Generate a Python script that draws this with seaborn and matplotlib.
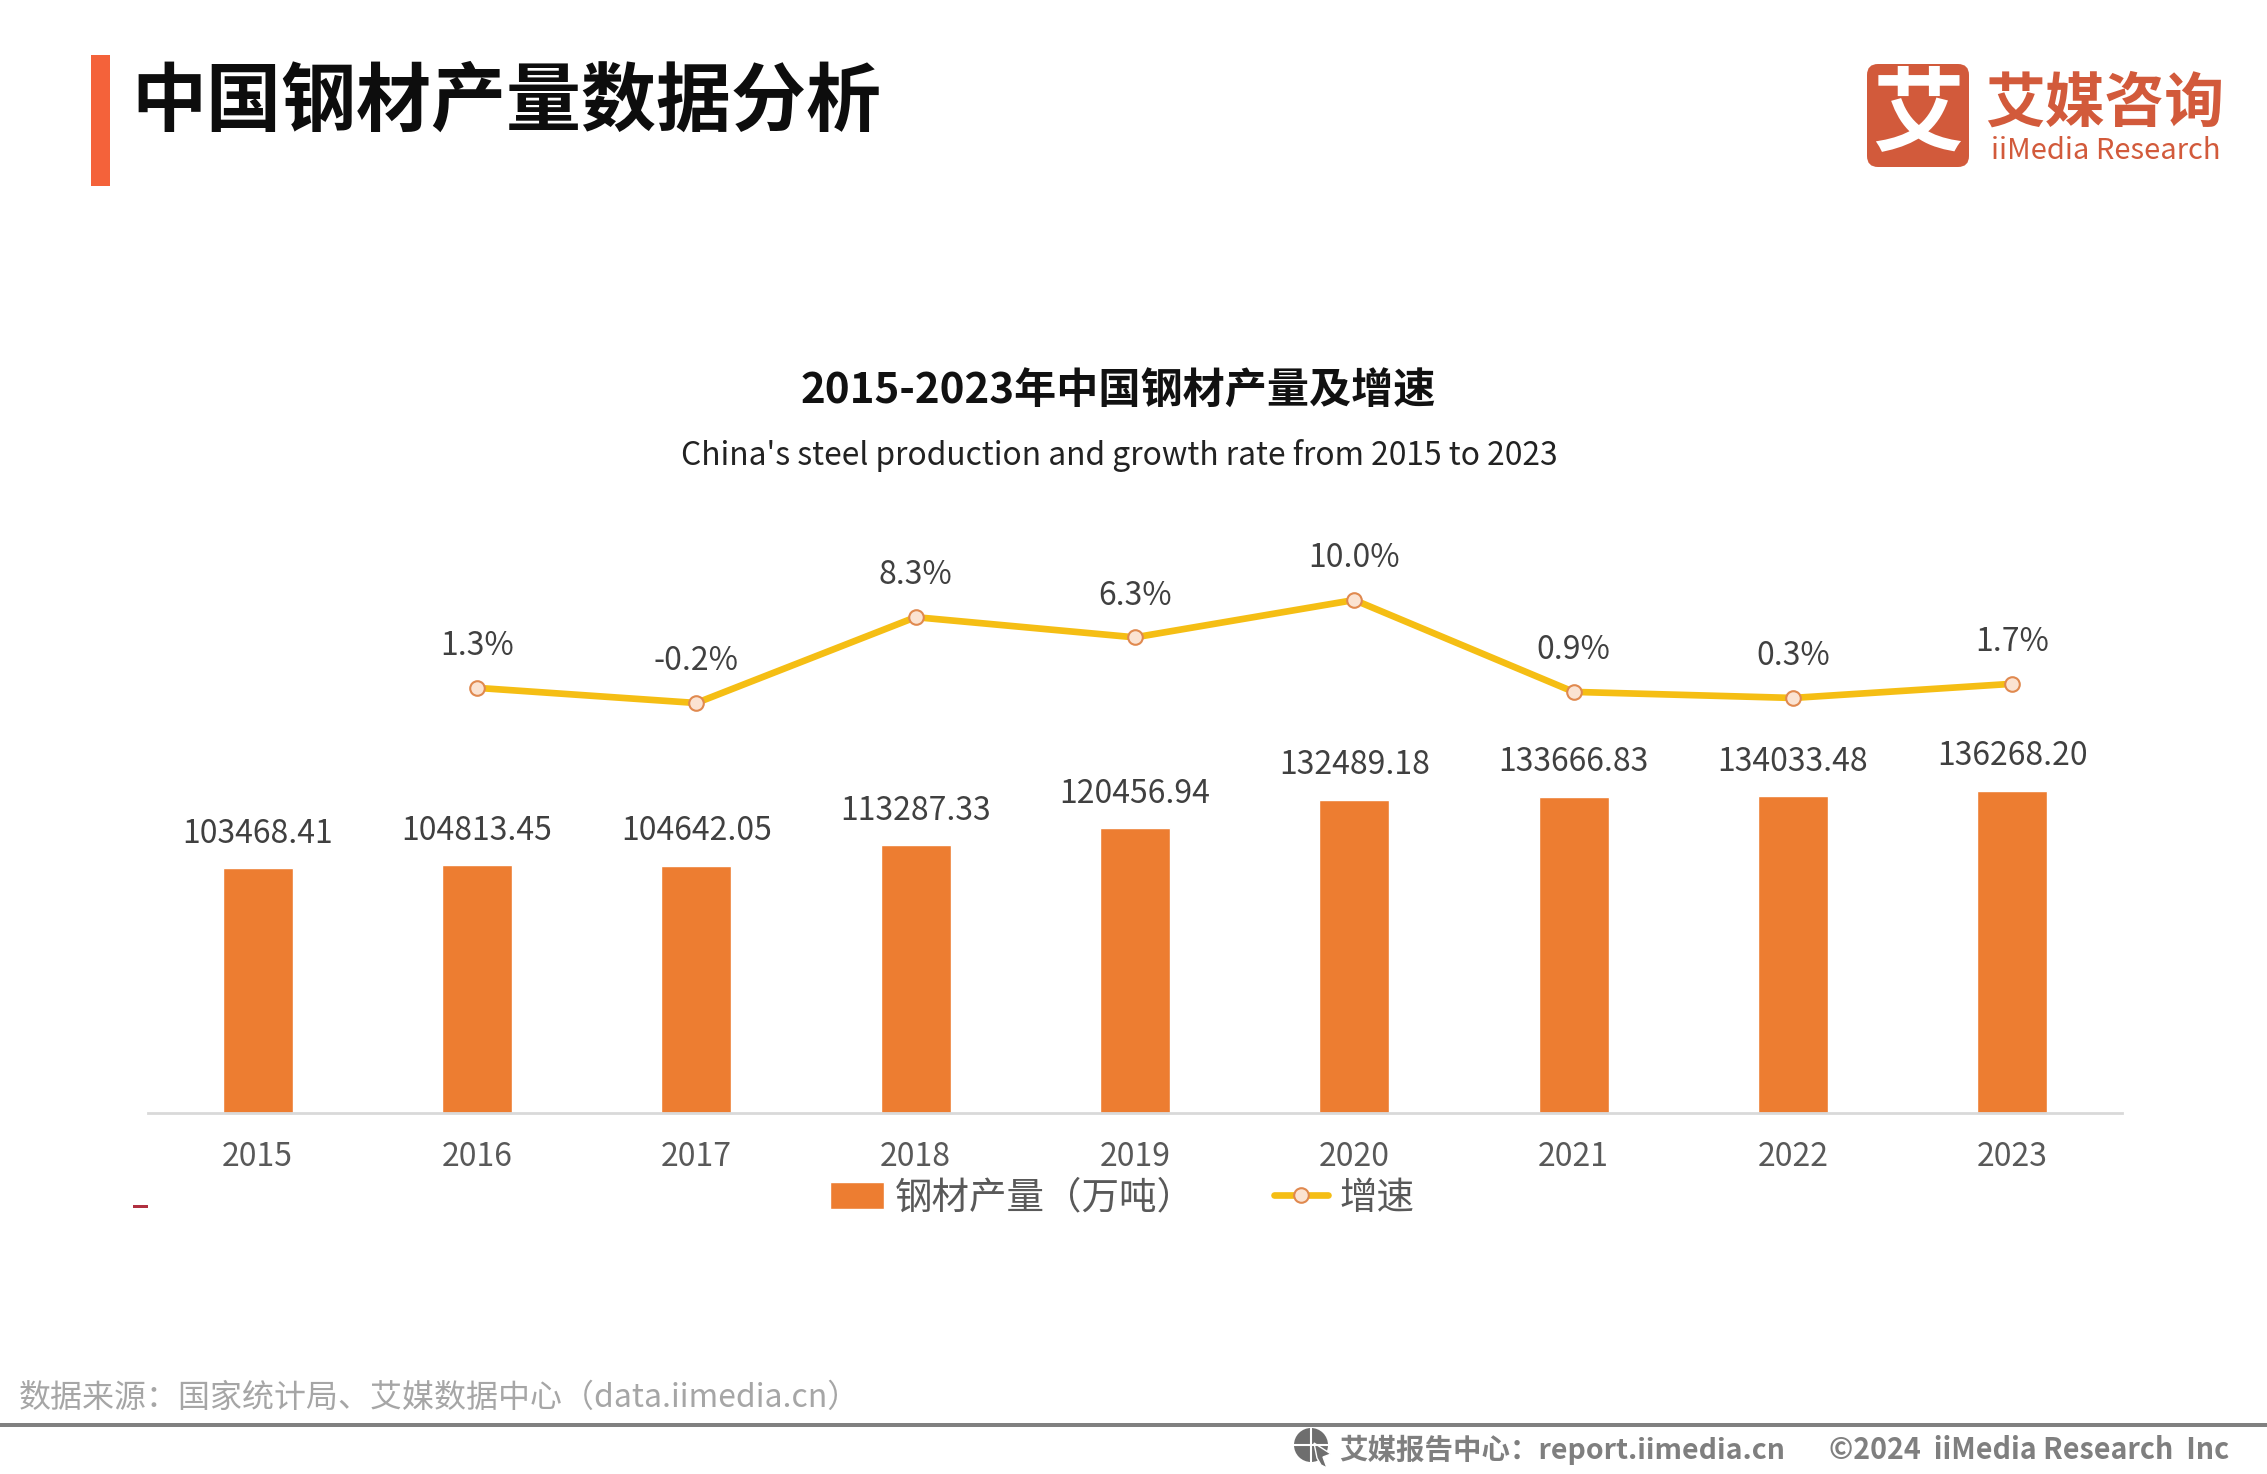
import matplotlib
matplotlib.use("Agg")
import matplotlib.pyplot as plt
from matplotlib.patches import FancyBboxPatch, Rectangle, Circle, Polygon
import seaborn as sns
import pandas as pd
import numpy as np

years = ["2015", "2016", "2017", "2018", "2019", "2020", "2021", "2022", "2023"]
output = [103468.41, 104813.45, 104642.05, 113287.33, 120456.94, 132489.18, 133666.83, 134033.48, 136268.20]
growth_years = [1, 2, 3, 4, 5, 6, 7, 8]
growth = [1.3, -0.2, 8.3, 6.3, 10.0, 0.9, 0.3, 1.7]

sns.set_theme(style="white")
plt.rcParams["font.family"] = ["Noto Sans CJK SC", "DejaVu Sans"]

W, H = 2267, 1474
fig = plt.figure(figsize=(W / 100, H / 100), dpi=100, facecolor="white")

# main axes, pixel box worked out from the reference
left, right, top, bottom = 148, 2122, 560, 1113
ax = fig.add_axes([left / W, 1 - bottom / H, (right - left) / W, (bottom - top) / H])

df = pd.DataFrame({"year": years, "output": output})
sns.barplot(data=df, x="year", y="output", color="#ED7D31", saturation=1, width=0.32, ax=ax, label="钢材产量（万吨）")
ax.set_xlim(-0.5, 8.5)
ax.set_ylim(0, 234000)
ax.set_xlabel("")
ax.set_ylabel("")
ax.set_yticks([])
ax.tick_params(axis="x", length=0, labelsize=23, labelcolor="#595959", pad=20)
for s in ["top", "left", "right"]:
    ax.spines[s].set_visible(False)
ax.spines["bottom"].set_color("#D9D9D9")
ax.spines["bottom"].set_linewidth(2)

for i, v in enumerate(output):
    ax.annotate(f"{v:.2f}", (i, v), xytext=(0, 25), textcoords="offset points",
                ha="center", va="center", fontsize=23, color="#404040")

ax2 = ax.twinx()
df2 = pd.DataFrame({"pos": growth_years, "growth": growth})
sns.lineplot(data=df2, x="pos", y="growth", color="#F5BE14", linewidth=4.8, marker="o", markersize=10.5,
             markerfacecolor="#FBE3D2", markeredgecolor="#E0894F", markeredgewidth=1.5, ax=ax2, label="增速")
ax2.set_ylim(-40.8, 13.96)
ax2.set_xlim(-0.5, 8.5)
ax2.set_ylabel("")
ax2.set_yticks([])
ax2.grid(False)
for s in ax2.spines.values():
    s.set_visible(False)
for x, g in zip(growth_years, growth):
    ax2.annotate(f"{g:.1f}%", (x, g), xytext=(0, 30), textcoords="offset points",
                 ha="center", va="center", fontsize=23, color="#404040")

h1, l1 = ax.get_legend_handles_labels()
h2, l2 = ax2.get_legend_handles_labels()
ax2.get_legend().remove()
if ax.get_legend():
    ax.get_legend().remove()
fig.legend(h1 + h2, l1 + l2, loc="center", bbox_to_anchor=(1122 / W, 1 - 1198 / H), ncol=2, frameon=False,
           fontsize=27, labelcolor="#595959", handlelength=1.45, handletextpad=0.3, columnspacing=2.1)

# overlay in pixel coordinates for header, logo and footer
deco = fig.add_axes([0, 0, 1, 1], zorder=5)
deco.set_xlim(0, W)
deco.set_ylim(H, 0)
deco.axis("off")
deco.patch.set_alpha(0)

deco.add_patch(Rectangle((91, 55), 19, 131, color="#F4623A", lw=0))
deco.text(131, 103, "中国钢材产量数据分析", fontsize=54, fontweight="bold", color="#0D0D0D", ha="left", va="center")
deco.text(1118, 392, "2015-2023年中国钢材产量及增速", fontsize=30.3, fontweight="bold", color="#111111", ha="center", va="center")
deco.text(1119, 455, "China's steel production and growth rate from 2015 to 2023", fontsize=22.9, color="#222222", ha="center", va="center")

# logo
logo_c = "#D25A3B"
deco.add_patch(FancyBboxPatch((1867, 64), 102, 103, boxstyle="round,pad=0,rounding_size=11", lw=0, fc=logo_c))
deco.text(1918, 116, "艾", fontsize=66, fontweight="bold", color="white", ha="center", va="center")
deco.text(2105, 105, "艾媒咨询", fontsize=43, fontweight="bold", color=logo_c, ha="center", va="center")
deco.text(2106, 151, "iiMedia Research", fontsize=21, fontweight="medium", color=logo_c, ha="center", va="center")

# stray speck left of the legend
deco.add_patch(Rectangle((133, 1205), 15, 3, color="#B03040", lw=0))

# footer
deco.text(19, 1398, "数据来源：国家统计局、艾媒数据中心（data.iimedia.cn）", fontsize=23, color="#A6A6A6", ha="left", va="center")
deco.add_patch(Rectangle((0, 1423), W, 4, color="#808080", lw=0))
deco.add_patch(Circle((1311, 1445), 17, fc="#6E6E6E", lw=0))
deco.plot([1294, 1328], [1445, 1445], color="white", lw=1.5)
deco.plot([1311, 1311], [1428, 1462], color="white", lw=1.5)
deco.add_patch(Polygon([(1314, 1443), (1331, 1454), (1323, 1457), (1327, 1468), (1321, 1465), (1317, 1458)], fc="#6E6E6E", ec="white", lw=1))
deco.text(1339, 1450, "艾媒报告中心：report.iimedia.cn", fontsize=20.5, fontweight="bold", color="#7F7F7F", ha="left", va="center")
deco.text(1829, 1450, "©2024  iiMedia Research  Inc", fontsize=20.6, fontweight="bold", color="#7F7F7F", ha="left", va="center")

fig.savefig("out.png", dpi=100, facecolor="white")
